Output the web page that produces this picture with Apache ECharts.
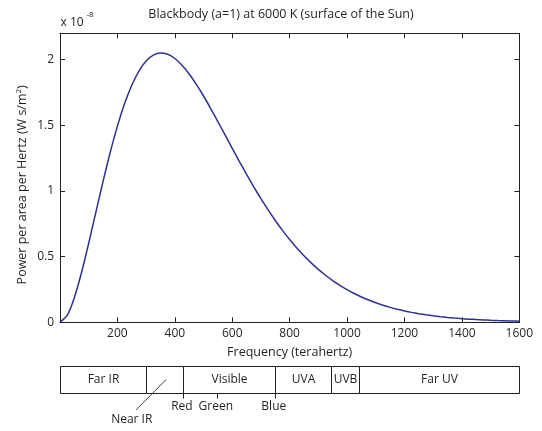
<!DOCTYPE html>
<html><head><meta charset="utf-8">
<script src="https://cdn.jsdelivr.net/npm/echarts@6.0.0/dist/echarts.min.js"></script>
<style>html,body{margin:0;padding:0;background:#fff}#c{width:542px;height:431px}</style>
</head><body><div id="c"></div>
<script>
// Frequency (THz)
const freq = [0,25,50,75,100,125,150,175,200,225,250,275,300,325,350,375,400,425,450,475,500,525,550,575,600,625,650,675,700,725,750,775,800,825,850,875,900,925,950,975,1000,1025,1050,1075,1100,1125,1150,1175,1200,1225,1250,1275,1300,1325,1350,1375,1400,1425,1450,1475,1500,1525,1550,1575,1600];
// Power per area per Hertz (x 1e-8 W s/m^2)
const power = [0,0.0521,0.1875,0.3786,0.6020,0.8386,1.0733,1.2944,1.4935,1.6647,1.8050,1.9128,1.9885,2.0333,2.0495,2.0401,2.0082,1.9573,1.8905,1.8114,1.7227,1.6274,1.5279,1.4263,1.3245,1.2239,1.1259,1.0314,0.9411,0.8555,0.7751,0.6999,0.6302,0.5657,0.5065,0.4523,0.4029,0.3581,0.3176,0.2811,0.2483,0.2190,0.1927,0.1693,0.1486,0.1301,0.1138,0.0994,0.0867,0.0755,0.0657,0.0571,0.0495,0.0429,0.0372,0.0322,0.0278,0.0240,0.0207,0.0179,0.0154,0.0132,0.0114,0.0098,0.0084];
// Spectral bands (THz)
const bandStart = [0,300,430,750,945,1043];
const bandEnd   = [300,430,750,945,1043,1600];
const bandLabel = ['Far IR','','Visible','UVA','UVB','Far UV'];
// Colour markers (THz)
const colorFreq  = [430,548,750];
const colorLabel = ['Red','Green','Blue'];
// Near IR callout
const nearIRLabel = 'Near IR';
const nearIRAt = [250,-0.97];
const nearIRLine = [[265,-0.6],[370,0.5]];

const FONT = '"Open Sans", "Noto Sans", sans-serif';
const INK = '#231f20';
const chart = echarts.init(document.getElementById('c'), null, {renderer:'canvas'});

const axisCommon = {
  type:'value', min:0, max:1600, interval:200,
  axisLine:{show:true, onZero:false, lineStyle:{color:INK, width:1}},
  axisTick:{show:true, inside:true, length:5, lineStyle:{color:INK}},
  splitLine:{show:false}
};
const yCommon = {
  type:'value', min:0, max:2.2, interval:0.5,
  axisLine:{show:true, onZero:false, lineStyle:{color:INK, width:1}},
  axisTick:{show:true, inside:true, length:5, lineStyle:{color:INK}},
  splitLine:{show:false}
};

chart.setOption({
  animation:false,
  textStyle:{fontFamily:FONT, color:INK},
  grid:[
    {left:60, right:22.7, top:33.3, bottom:108.7},
    {left:60, right:22.7, top:365.7, height:27.6}
  ],
  xAxis:[
    Object.assign({}, axisCommon, {gridIndex:0, position:'bottom',
      name:'Frequency (terahertz)', nameLocation:'middle', nameGap:24,
      nameTextStyle:{fontFamily:FONT, fontSize:12.5, color:INK},
      axisLabel:{show:true, showMinLabel:false, margin:5, fontFamily:FONT, fontSize:12, color:INK,
        formatter:v=>String(v)}}),
    Object.assign({}, axisCommon, {gridIndex:0, position:'top', axisLabel:{show:false}}),
    {type:'value', gridIndex:1, min:0, max:1600, show:false}
  ],
  yAxis:[
    Object.assign({}, yCommon, {gridIndex:0, position:'left',
      name:'Power per area per Hertz (W s/m{sup|2})', nameLocation:'middle', nameGap:30, nameMoveOverlap:false,
      nameTextStyle:{fontFamily:FONT, fontSize:12.5, color:INK, padding:[0,14,0,0],
        rich:{sup:{fontSize:8, fontFamily:FONT, color:INK, padding:[0,0,7,0]}}},
      axisLabel:{show:true, showMaxLabel:false, margin:6, fontFamily:FONT, fontSize:12, color:INK,
        formatter:v=>String(v)}}),
    Object.assign({}, yCommon, {gridIndex:0, position:'right', axisLabel:{show:false}}),
    {type:'value', gridIndex:1, min:0, max:1, show:false}
  ],
  graphic:[
    {type:'text', x:281, y:14.5, style:{text:'Blackbody (a=1) at 6000 K (surface of the Sun)', align:'center', verticalAlign:'middle', font:'12.5px '+FONT, fill:INK}},
    {type:'text', x:60.5, y:23, style:{text:'x 10', align:'left', verticalAlign:'middle', font:'12px '+FONT, fill:INK}},
    {type:'text', x:86.5, y:15, style:{text:'-8', align:'left', verticalAlign:'middle', font:'8px '+FONT, fill:INK}}
  ],
  series:[
    {type:'line', xAxisIndex:0, yAxisIndex:0, data:freq.map((f,i)=>[f,power[i]]),
     showSymbol:false, smooth:0.2, lineStyle:{color:'#2e3192', width:1.5}},
    {type:'custom', xAxisIndex:2, yAxisIndex:2, clip:false,
     data:bandStart.map((s,i)=>[s,bandEnd[i]]),
     renderItem(params, api){
       const p0 = api.coord([api.value(0),1]);
       const p1 = api.coord([api.value(1),0]);
       const x0 = Math.round(p0[0])+0.5, x1 = Math.round(p1[0])+0.5;
       const y0 = Math.round(p0[1])+0.5, y1 = Math.round(p1[1])+0.5;
       return {type:'group', children:[
         {type:'rect', shape:{x:x0, y:y0, width:x1-x0, height:y1-y0}, style:{fill:'#fff', stroke:INK, lineWidth:1}},
         {type:'text', x:(x0+x1)/2, y:(y0+y1)/2, style:{text:bandLabel[params.dataIndex], align:'center', verticalAlign:'middle', font:'12px '+FONT, fill:INK}}
       ]};
     }},
    {type:'custom', xAxisIndex:2, yAxisIndex:2, clip:false, z:3,
     data:colorFreq.map(f=>[f,0]),
     renderItem(params, api){
       const v = api.value(0);
       const a = api.coord([v,0]), b = api.coord([v,-0.19]), t = api.coord([v,-0.49]);
       const x = Math.round(a[0])+0.5;
       return {type:'group', children:[
         {type:'line', shape:{x1:x, y1:a[1], x2:x, y2:b[1]}, style:{stroke:INK, lineWidth:1}},
         {type:'text', x:t[0]-1.5, y:t[1], style:{text:colorLabel[params.dataIndex], align:'center', verticalAlign:'middle', font:'12px '+FONT, fill:INK}}
       ]};
     }},
    {type:'custom', xAxisIndex:2, yAxisIndex:2, clip:false, z:3,
     data:[[nearIRAt[0], nearIRAt[1]]],
     renderItem(params, api){
       const t = api.coord(nearIRAt);
       const a = api.coord(nearIRLine[0]), b = api.coord(nearIRLine[1]);
       return {type:'group', children:[
         {type:'line', shape:{x1:a[0], y1:a[1], x2:b[0], y2:b[1]}, style:{stroke:'#444', lineWidth:1}},
         {type:'text', x:t[0], y:t[1], style:{text:nearIRLabel, align:'center', verticalAlign:'middle', font:'12px '+FONT, fill:INK}}
       ]};
     }}
  ]
});
</script></body></html>
